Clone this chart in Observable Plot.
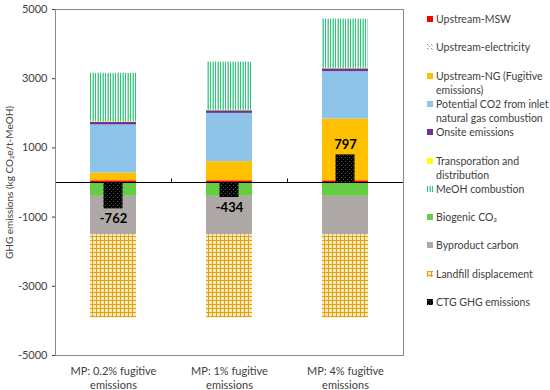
<!DOCTYPE html>
<html><head><meta charset="utf-8">
<script src="https://cdn.jsdelivr.net/npm/d3@7"></script>
<script src="https://cdn.jsdelivr.net/npm/@observablehq/plot@0.6"></script>
<style>
body{margin:0;background:#fff;font-family:Lato,"Open Sans",sans-serif;}
#wrap{position:relative;width:550px;height:390px;overflow:hidden;}
#chart{position:absolute;left:0;top:0;}
#legend{position:absolute;left:427px;top:0;width:123px;font-size:10.5px;color:#404040;}
.item{position:absolute;left:0;display:flex;align-items:flex-start;line-height:14px;white-space:pre;}
.sw{width:6px;height:6px;margin-top:4px;margin-right:3px;flex:none;}
</style></head><body>
<svg width="0" height="0" style="position:absolute">
<defs>
<pattern id="pMeoh" width="5" height="10" patternUnits="userSpaceOnUse">
<rect width="5" height="10" fill="#fff"/>
<rect x="0" width="1" height="10" fill="#2BC673"/>
<rect x="2" width="1" height="10" fill="#9BE6C3"/>
<rect x="3" width="1" height="10" fill="#4ED08D"/>
</pattern>
<pattern id="pLandfill" width="4" height="4" patternUnits="userSpaceOnUse">
<rect width="4" height="4" fill="#FCEBC2"/>
<rect x="0" y="0" width="1" height="4" fill="#E2A20E"/>
<rect x="0" y="0" width="4" height="1" fill="#E2A20E"/>
</pattern>
<pattern id="pCtg" width="4" height="4" patternUnits="userSpaceOnUse">
<rect width="4" height="4" fill="#000"/>
<rect x="1" y="1" width="1" height="1" fill="#666"/>
<rect x="3" y="3" width="1" height="1" fill="#444"/>
</pattern>
<pattern id="pElec" width="4" height="4" patternUnits="userSpaceOnUse">
<rect width="4" height="4" fill="#fff"/>
<rect x="0" y="0" width="1" height="1" fill="#5BA3DA"/>
<rect x="1" y="1" width="1" height="1" fill="#9CC8EA"/>
<rect x="2" y="2" width="1" height="1" fill="#5BA3DA"/>
</pattern>
</defs></svg>
<div id="wrap"><div id="chart"></div><div id="legend"></div></div>
<script>
const categories = ["MP: 0.2% fugitive emissions", "MP: 1% fugitive emissions", "MP: 4% fugitive emissions"];
const xLabels = ["MP: 0.2% fugitive\nemissions", "MP: 1% fugitive\nemissions", "MP: 4% fugitive\nemissions"];
const seriesNames = ["Upstream-MSW", "Upstream-electricity", "Upstream-NG (Fugitive emissions)", "Potential CO2 from inlet natural gas combustion", "Onsite emissions", "Transporation and distribution", "MeOH combustion", "Biogenic CO₂", "Byproduct carbon", "Landfill displacement"];
const legendLabels = ["Upstream-MSW", "Upstream-electricity", "Upstream-NG (Fugitive\nemissions)", "Potential CO2 from inlet\nnatural gas combustion", "Onsite emissions", "Transporation and\ndistribution", "MeOH combustion", "Biogenic CO₂", "Byproduct carbon", "Landfill displacement", "CTG GHG emissions"];
const seriesFills = ["#FF0000", "url(#pElec)", "#FFC000", "#8DC4E8", "#7030A0", "#FFFF00", "url(#pMeoh)", "#66CC44", "#AEA9A7", "url(#pLandfill)"];
const ctgFill = "url(#pCtg)";

const upstreamMSW = [50, 50, 50];
const upstreamElectricity = [5, 5, 5];
const upstreamNG = [220, 548, 1780];
const potentialCO2 = [1390, 1395, 1370];
const onsiteEmissions = [75, 75, 80];
const transportation = [15, 15, 15];
const meohCombustion = [1400, 1392, 1420];
const biogenicCO2 = [-400, -400, -400];
const byproductCarbon = [-1110, -1110, -1110];
const landfillDisplacement = [-2400, -2400, -2400];
const ctgEmissions = [-762, -434, 797];

const seriesValues = [upstreamMSW, upstreamElectricity, upstreamNG, potentialCO2, onsiteEmissions, transportation, meohCombustion, biogenicCO2, byproductCarbon, landfillDisplacement];
const yTicks = [5000, 3000, 1000, -1000, -3000, -5000];
const yLabel = "GHG emissions (kg CO₂e/t-MeOH)";

const stackRows = [];
categories.forEach((c, i) => seriesNames.forEach((s, j) => stackRows.push({category: c, series: s, value: seriesValues[j][i]})));
const ctgRows = categories.map((c, i) => ({category: c, value: ctgEmissions[i]}));

const W = 415, mL = 55, mR = 12;
const step = (W - mL - mR) / categories.length;
const font = "Lato, 'Open Sans', sans-serif";

const plot = Plot.plot({
  width: W, height: 390,
  marginLeft: mL, marginRight: mR, marginTop: 9, marginBottom: 35,
  style: {fontFamily: font, fontSize: "11px", color: "#404040", background: "transparent", overflow: "visible"},
  x: {domain: categories, paddingInner: 0.6, paddingOuter: 0.3, label: null},
  y: {domain: [-5000, 5000], label: null},
  color: {domain: seriesNames, range: seriesFills},
  marks: [
    Plot.barY(stackRows, {x: "category", y: "value", fill: "series"}),
    Plot.barY(ctgRows, {x: "category", y: "value", fill: ctgFill, insetLeft: 13.5, insetRight: 13.5}),
    Plot.text(ctgRows.filter(d => d.value < 0), {x: "category", y: "value", text: d => String(d.value), dy: 10, fontWeight: "bold", fontSize: 13, fill: "#000"}),
    Plot.text(ctgRows.filter(d => d.value >= 0), {x: "category", y: "value", text: d => String(d.value), dy: -10, fontWeight: "bold", fontSize: 13, fill: "#000"}),
    Plot.ruleY([0], {stroke: "#000", strokeWidth: 1}),
    Plot.ruleX(categories.slice(0, -1), {x: d => d, dx: step / 2, y1: 0, y2: 100, stroke: "#000"}),
    Plot.frame({stroke: "#888"}),
    Plot.axisY({ticks: yTicks, tickSize: 3, tickPadding: 5, tickFormat: d => String(d), label: null, fontSize: 11}),
    Plot.axisY({ticks: [], label: yLabel, labelAnchor: "center", labelArrow: "none", labelOffset: 50, fontSize: 10}),
    Plot.axisX({tickSize: 0, tickPadding: 9, tickFormat: (d) => xLabels[categories.indexOf(d)], lineHeight: 1.3, fontSize: 11, label: null})
  ]
});
document.getElementById("chart").appendChild(plot);

const legend = document.getElementById("legend");
const legendFills = seriesFills.concat([ctgFill]);
legendLabels.forEach((lab, i) => {
  const item = document.createElement("div");
  item.className = "item";
  item.style.top = (12 + i * 28.3) + "px";
  const sw = document.createElementNS("http://www.w3.org/2000/svg", "svg");
  sw.setAttribute("class", "sw");
  sw.setAttribute("width", 6); sw.setAttribute("height", 6);
  const r = document.createElementNS("http://www.w3.org/2000/svg", "rect");
  r.setAttribute("width", 6); r.setAttribute("height", 6); r.setAttribute("fill", legendFills[i]);
  sw.appendChild(r);
  item.appendChild(sw);
  const t = document.createElement("span");
  t.textContent = lab;
  item.appendChild(t);
  legend.appendChild(item);
});
</script>
</body></html>
